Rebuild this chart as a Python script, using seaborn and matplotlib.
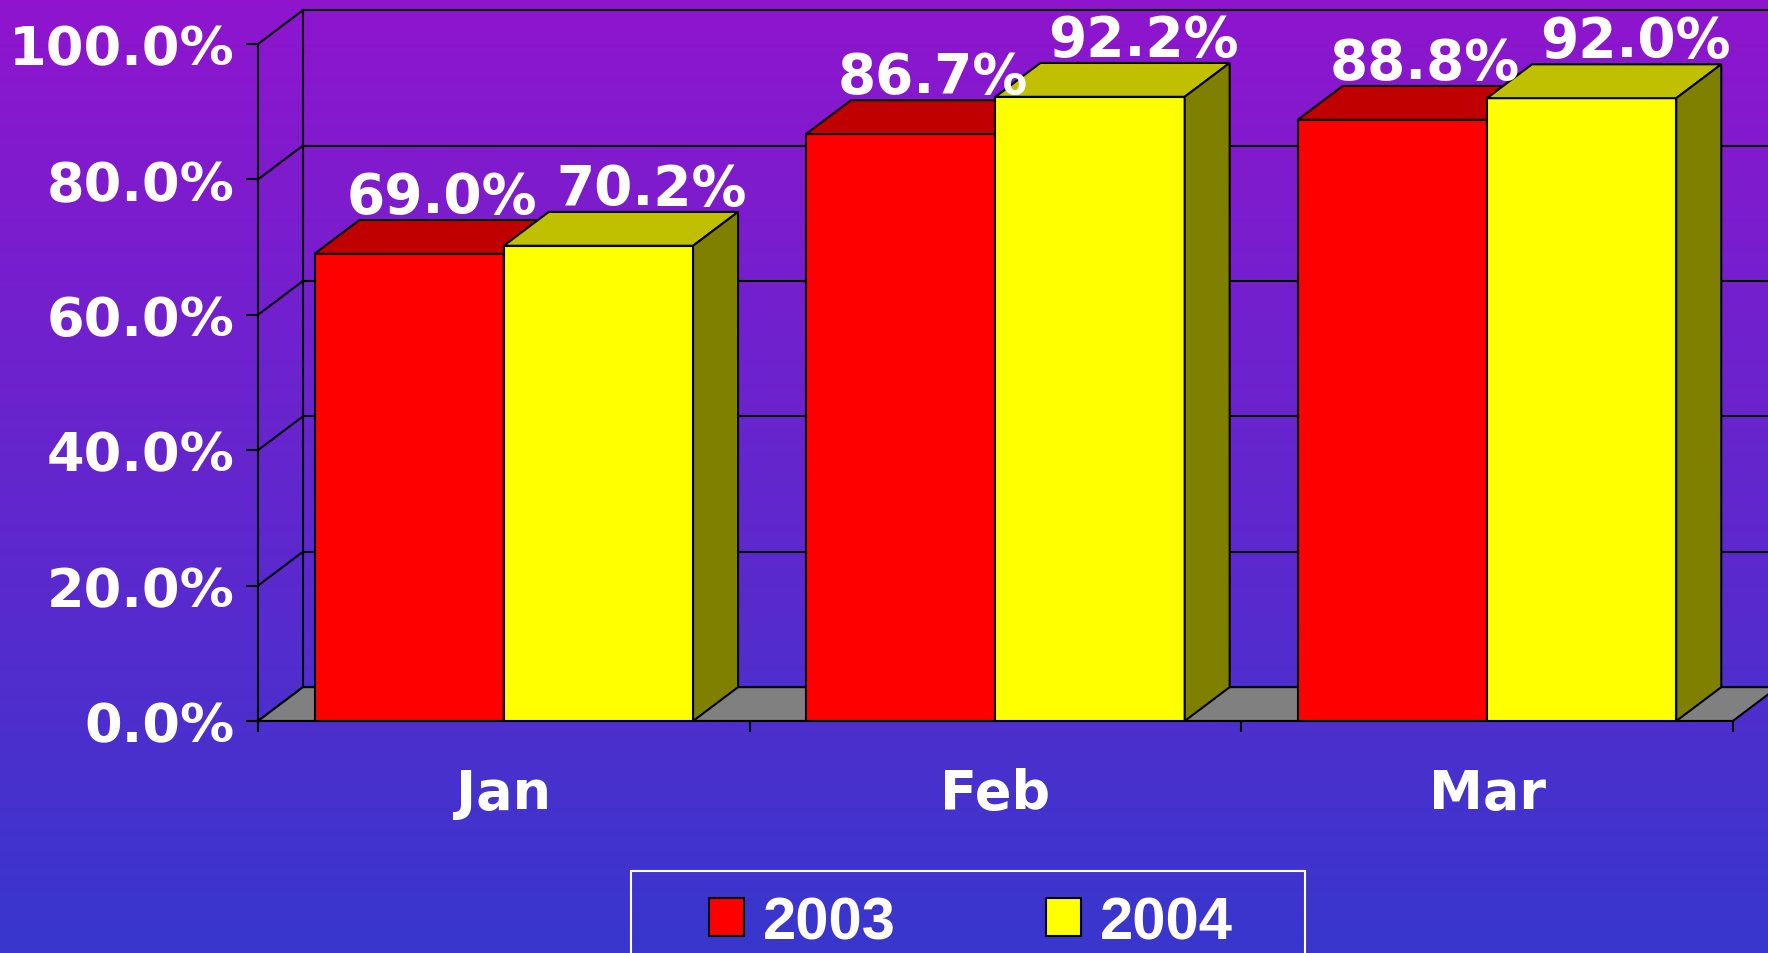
import matplotlib
matplotlib.use('Agg')
import matplotlib.pyplot as plt
from matplotlib.patches import Polygon, Rectangle, Patch
import numpy as np
import pandas as pd
import seaborn as sns

months = ['Jan', 'Feb', 'Mar']
years = ['2003', '2004']
val_2003 = [69.0, 86.7, 88.8]
val_2004 = [70.2, 92.2, 92.0]
yticks = [0, 20, 40, 60, 80, 100]

front_colors = {'2003': '#FF0000', '2004': '#FFFF00'}
top_colors = {'2003': '#C00000', '2004': '#C0C000'}
side_colors = {'2003': '#800000', '2004': '#808000'}

df = pd.DataFrame({
    'month': months * 2,
    'year': ['2003'] * 3 + ['2004'] * 3,
    'value': val_2003 + val_2004,
})

plt.rcParams['font.weight'] = 'bold'

W, H = 1768, 954
fig = plt.figure(figsize=(W / 100, H / 100), dpi=100)

# vertical gradient background
bg = fig.add_axes([0, 0, 1, 1], zorder=-10)
c_top = np.array([0x8F, 0x15, 0xCD]) / 255
c_bot = np.array([0x38, 0x37, 0xCD]) / 255
t = np.linspace(0, 1, 256)[:, None]
grad = c_top * (1 - t) + c_bot * t
bg.imshow(grad[:, None, :], aspect='auto', extent=[0, 1, 0, 1])
bg.set_xlim(0, 1)
bg.set_ylim(0, 1)
bg.axis('off')

# main axes geometry (pixels)
px_x0, px_y0 = 258, 722
unit_px, pct_px = 491.6, 6.77
xmax = -0.5 + (W - px_x0) / unit_px
ymax = 107
dx, dy = 0.0915, 5.0
label_nudge = {'2003': 0.02, '2004': 0.063}

ax = fig.add_axes([px_x0 / W, 1 - px_y0 / H, (W - px_x0) / W, ymax * pct_px / H])
ax.set_facecolor('none')

sns.barplot(data=df, x='month', y='value', hue='year', palette=front_colors,
            width=0.77, edgecolor='black', linewidth=1.5, saturation=1,
            errorbar=None, legend=False, ax=ax)

# 3d faces + labels
for i, (container, yr) in enumerate(zip(ax.containers, years)):
    z = 3 + i
    for bar in container:
        bar.set_zorder(z)
        x0, w, h = bar.get_x(), bar.get_width(), bar.get_height()
        top = Polygon([(x0, h), (x0 + dx, h + dy), (x0 + w + dx, h + dy), (x0 + w, h)],
                      facecolor=top_colors[yr], edgecolor='black', linewidth=1.5, zorder=z)
        side = Polygon([(x0 + w, 0), (x0 + w + dx, dy), (x0 + w + dx, h + dy), (x0 + w, h)],
                       facecolor=side_colors[yr], edgecolor='black', linewidth=1.5, zorder=z)
        ax.add_patch(top)
        ax.add_patch(side)
        ax.text(x0 + w / 2 + dx / 2 + label_nudge[yr], h + dy + 1.2, f'{h:.1f}%',
                ha='center', va='baseline', color='white', fontsize=39.5,
                fontweight='bold', zorder=10)

# back wall, side wall and floor
for v in yticks:
    ax.plot([-0.5 + dx, xmax], [v + dy, v + dy], color='black', lw=1.5, zorder=1)
    ax.plot([-0.5, -0.5 + dx], [v, v + dy], color='black', lw=1.5, zorder=1)
ax.plot([-0.5 + dx, -0.5 + dx], [dy, 100 + dy], color='black', lw=1.5, zorder=1)
floor = Polygon([(-0.5, 0), (-0.5 + dx, dy), (2.5 + dx, dy), (2.5, 0)],
                facecolor='#808080', edgecolor='black', linewidth=1.5, zorder=1.5)
ax.add_patch(floor)

ax.set_xlim(-0.5, xmax)
ax.set_ylim(0, ymax)
ax.set_xlabel('')
ax.set_ylabel('')

ax.spines['top'].set_visible(False)
ax.spines['right'].set_visible(False)
ax.spines['left'].set_bounds(0, 100)
ax.spines['bottom'].set_bounds(-0.5, 2.5)
for s in ('left', 'bottom'):
    ax.spines[s].set_linewidth(1.5)

ax.set_yticks(yticks)
ax.set_yticklabels([f'{v:.1f}%' for v in yticks])
ax.tick_params(axis='y', direction='out', length=8.5, width=1.5, colors='black',
               labelcolor='white', labelsize=39, pad=8.5)
ax.set_xticks([0, 1, 2])
ax.set_xticklabels(months)
ax.set_xticks([-0.5, 0.5, 1.5, 2.5], minor=True)
ax.tick_params(axis='x', which='major', length=0, labelcolor='white', labelsize=39, pad=33)
ax.tick_params(axis='x', which='minor', direction='out', length=8, width=1.5, colors='black')

# legend
handles = [Patch(facecolor=front_colors[y], edgecolor='black', linewidth=1.5, label=y) for y in years]
fig.legend(handles=handles, loc='center left', bbox_to_anchor=(709 / W, 1 - 924 / H), ncol=2,
           frameon=False, prop={'family': 'Liberation Sans', 'weight': 'bold', 'size': 43},
           labelcolor='white', handlelength=0.59, handleheight=0.6, handletextpad=0.32,
           columnspacing=2.5, borderpad=0, borderaxespad=0)
fig.add_artist(Rectangle((631 / W, -0.05), (1305 - 631) / W, 1 - 872 / H + 0.05,
                         transform=fig.transFigure, fill=False, edgecolor='white', linewidth=1.5))

fig.savefig('out.png', dpi=100)
